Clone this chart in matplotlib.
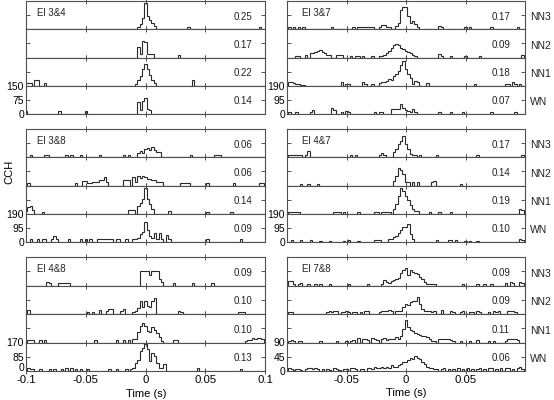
import numpy as np
import matplotlib
matplotlib.use('Agg')
import matplotlib.pyplot as plt
import matplotlib.transforms as mtransforms

plt.rcParams['font.family'] = ['Liberation Sans', 'DejaVu Sans']
plt.rcParams['axes.unicode_minus'] = False

# ---------------- data: (bin centre in ms, count), 2 ms bins ----------------
row_names = ['NN3', 'NN2', 'NN1', 'WN']

# El 3&4 (y max 150)
el34_nn3 = [(-6,14),(-4,28),(-2,58),(0,138),(2,70),(4,50),(6,32),(8,18),(36,14),(96,14)]
el34_nn2 = [(-6,56),(-4,20),(-2,85),(0,80),(2,18),(4,18),(6,18),(28,14)]
el34_nn1 = [(-100,15),(-98,14),(-96,14),(-92,32),(-90,32),(-84,12),(-8,9),(-6,30),(-4,53),(-2,88),
            (0,114),(2,88),(4,55),(6,30),(8,12),(40,28)]
el34_wn = [(-100,15),(-72,15),(-50,15),(-6,62),(-4,20),(-2,70),(0,85),(2,26),(4,21)]
el34_r = ['0.25', '0.17', '0.22', '0.14']

# El 3&8 (y max 190)
el38_nn3 = [(-96,15),(-84,15),(-82,15),(-66,15),(-62,15),(-54,15),(-38,15),(-18,15),(-14,15),
            (-6,30),(-4,44),(-2,26),(0,58),(2,62),(4,48),(6,72),(8,48),(10,33),(12,33),
            (38,15),(58,15),(60,15),(62,15)]
el38_nn2 = [(-98,15),(-58,15),(-52,30),(-50,30),(-48,15),(-46,15),(-44,22),(-42,22),(-40,22),(-38,35),
            (-36,35),(-34,55),(-32,22),(-18,35),(-16,35),(-14,35),(-10,55),(-8,25),(-6,66),(-4,48),
            (-2,66),(0,55),(2,44),(4,44),(6,40),(8,40),(10,22),(12,22),(14,22),(30,15),(32,15),
            (34,15),(36,15),(52,15),(74,15),(96,15),(98,15)]
el38_nn1 = [(-100,20),(-98,45),(-96,55),(-94,22),(-86,15),(-14,22),(-12,22),(-10,22),(-6,55),(-4,75),
            (-2,100),(0,176),(2,100),(4,66),(6,33),(20,20),(52,15),(72,15)]
el38_wn = [(-96,18),(-90,18),(-86,18),(-84,18),(-78,20),(-76,40),(-74,20),(-64,18),(-54,18),(-50,18),
           (-46,18),(-40,18),(-38,18),(-36,18),(-34,18),(-32,18),(-30,18),(-28,18),(-24,18),(-22,18),
           (-16,18),(-10,18),(-8,18),(-6,30),(-4,55),(-2,70),(0,132),(2,80),(4,40),(6,26),(8,62),
           (10,22),(12,62),(14,18),(18,44),(20,22),(52,18),(80,18)]
el38_r = ['0.06', '0.06', '0.14', '0.09']

# El 4&8 (y max 170)
el48_nn3 = [(-82,20),(-80,14),(-72,12),(-70,12),(-68,12),(-66,12),(-64,12),(-4,84),(-2,84),(0,84),
            (2,84),(4,64),(6,84),(8,84),(10,84),(12,40),(14,20),(24,14),(40,14),(56,14)]
el48_nn2 = [(-98,24),(-48,12),(-44,12),(-38,24),(-32,16),(-30,28),(-28,28),(-20,16),(-18,28),(-10,12),
            (-8,20),(-6,36),(-4,76),(-2,40),(0,80),(2,50),(4,44),(6,76),(8,96),(28,20),(30,14),
            (78,12),(80,12),(82,12)]
el48_nn1 = [(-98,12),(-96,12),(-94,12),(-88,12),(-84,12),(-42,12),(-24,12),(-18,12),(-14,12),(-10,20),
            (-8,20),(-6,60),(-4,100),(-2,115),(0,100),(2,70),(4,60),(6,90),(8,76),(10,56),(12,30),
            (14,10),(24,12),(26,12),(84,10),(86,16),(88,16),(90,28),(92,20),(94,28),(96,28),(98,20)]
el48_wn = [(-98,20),(-96,10),(-94,10),(-88,12),(-80,12),(-76,12),(-70,12),(-66,16),(-62,20),(-58,12),
           (-54,12),(-48,12),(-30,12),(-24,12),(-16,12),(-12,10),(-10,20),(-8,50),(-6,64),(-4,120),
           (-2,140),(0,160),(2,130),(4,60),(6,110),(8,90),(10,50),(12,20),(14,20),(16,40),(44,16),(80,12)]
el48_r = ['0.09', '0.10', '0.10', '0.13']

# El 3&7 (y max 190)
el37_nn3 = [(-98,13),(-94,13),(-90,13),(-86,13),(-62,13),(-44,13),(-40,13),(-38,18),(-36,18),(-34,18),
            (-32,18),(-30,18),(-28,18),(-22,18),(-20,27),(-18,27),(-16,18),(-14,18),(-8,22),(-6,45),
            (-4,130),(-2,150),(0,150),(2,90),(4,45),(6,55),(8,33),(10,13),(28,22),(30,13),(50,13),
            (54,13),(72,13),(94,13)]
el37_nn2 = [(-92,13),(-90,13),(-84,18),(-80,27),(-78,33),(-76,40),(-74,45),(-72,50),(-70,40),(-68,27),
            (-66,18),(-64,18),(-58,18),(-56,18),(-54,18),(-46,13),(-42,13),(-40,13),(-36,13),(-28,13),
            (-22,13),(-20,13),(-18,18),(-16,30),(-14,45),(-12,67),(-10,85),(-8,90),(-6,85),(-4,67),
            (-2,55),(0,45),(2,40),(4,33),(6,18),(8,13),(28,22),(30,13),(38,13),(50,13),(62,13),(98,18)]
el37_nn1 = [(-98,25),(-96,25),(-94,18),(-92,13),(-90,11),(-88,8),(-86,8),(-54,22),(-50,13),(-48,13),
            (-36,22),(-34,13),(-28,13),(-22,18),(-20,27),(-18,27),(-16,33),(-14,45),(-12,40),(-10,67),
            (-8,78),(-6,100),(-4,140),(-2,167),(0,110),(2,78),(4,50),(6,12),(8,33),(10,22),(18,18),
            (58,13),(84,13),(86,13),(90,27),(92,13),(96,13)]
el37_wn = [(-98,13),(-92,13),(-80,13),(-78,27),(-62,40),(-60,27),(-54,13),(-50,22),(-48,13),(-26,13),
           (-22,13),(-20,13),(-12,33),(-10,33),(-8,33),(-6,33),(-4,67),(-2,40),(0,27),(2,22),(4,13),
           (6,33),(8,13),(28,13),(38,13),(48,13),(72,13),(92,13)]
el37_r = ['0.17', '0.09', '0.18', '0.07']

# El 4&7 (y max 190)
el47_nn3 = [(-98,18),(-96,13),(-94,13),(-92,13),(-90,13),(-88,13),(-84,18),(-82,40),(-46,13),(-42,13),
            (-22,18),(-20,27),(-18,13),(-10,33),(-8,56),(-6,89),(-4,110),(-2,145),(0,90),(2,56),
            (4,22),(6,18),(8,18),(12,18),(26,18),(60,13),(98,13)]
el47_nn2 = [(-88,13),(-82,13),(-74,13),(-10,33),(-8,67),(-6,116),(-4,107),(-2,78),(0,22),(2,22),
            (6,22),(10,22),(22,22),(24,27),(46,13)]
el47_nn1 = [(-98,13),(-96,9),(-94,9),(-92,9),(-90,9),(-60,13),(-58,13),(-56,13),(-52,9),(-40,13),
            (-26,13),(-24,13),(-20,13),(-18,13),(-16,13),(-14,13),(-10,30),(-8,67),(-6,122),(-4,170),
            (-2,150),(0,122),(2,90),(4,60),(6,33),(8,18),(10,18),(20,13),(28,13),(38,13),(96,33),(98,27)]
el47_wn = [(-96,13),(-88,13),(-80,13),(-72,9),(-64,9),(-52,9),(-48,13),(-40,9),(-26,13),(-24,13),
           (-22,13),(-14,18),(-12,18),(-10,33),(-8,40),(-6,62),(-4,78),(-2,100),(0,100),(2,120),
           (4,55),(6,18),(26,13),(36,13),(38,13),(42,13),(50,9),(54,9),(60,9),(96,22),(98,13)]
el47_r = ['0.17', '0.14', '0.19', '0.10']

# El 7&8 (y max 90)
el78_nn3 = [(-98,13),(-96,13),(-94,6),(-90,6),(-88,8),(-82,5),(-76,5),(-72,5),(-64,5),(-48,5),(-32,6),
            (-20,5),(-18,16),(-16,10),(-14,8),(-12,13),(-10,16),(-8,20),(-6,24),(-4,40),(-2,48),(0,55),
            (2,34),(4,50),(6,42),(8,40),(10,36),(12,28),(14,22),(16,12),(18,6),(20,6),(22,6),(24,5),
            (48,5),(60,5),(66,5),(72,5),(84,8),(88,10),(90,8),(96,10),(98,8)]
el78_nn2 = [(-98,5),(-96,5),(-66,5),(-64,8),(-62,5),(-60,8),(-58,8),(-54,5),(-52,5),(-50,8),(-48,5),
            (-44,6),(-42,6),(-38,5),(-34,8),(-32,8),(-22,5),(-20,8),(-18,10),(-16,10),(-14,12),(-12,8),
            (-8,10),(-6,10),(-4,10),(-2,23),(0,32),(2,30),(4,37),(6,42),(8,40),(10,53),(12,32),(14,16),
            (16,8),(18,8),(20,10),(22,6),(24,10),(30,12),(38,8),(40,6),(46,6),(48,8),(54,6),(56,6),
            (60,8),(62,6),(70,6),(74,8),(76,6),(78,8),(86,10),(88,10),(90,10),(92,6)]
el78_nn1 = [(-98,6),(-96,8),(-94,5),(-90,5),(-88,6),(-72,5),(-58,5),(-50,5),(-46,6),(-44,8),(-40,14),
            (-36,12),(-34,10),(-32,8),(-28,14),(-26,10),(-24,8),(-20,10),(-18,14),(-16,8),(-14,10),
            (-12,12),(-10,10),(-8,18),(-6,12),(-4,21),(-2,42),(0,72),(2,48),(4,40),(6,37),(8,30),
            (10,27),(12,24),(14,21),(16,19),(18,16),(20,11),(22,5),(24,5),(28,10),(30,12),(32,12),
            (34,10),(36,12),(38,8),(40,6),(46,6),(54,6),(60,8),(70,6),(74,6),(84,6),(86,10),(88,10),
            (90,12),(92,10),(94,8)]
el78_wn = [(-98,10),(-96,6),(-94,4),(-92,6),(-90,6),(-88,4),(-84,6),(-82,8),(-80,8),(-78,6),(-76,8),
           (-74,6),(-70,6),(-66,6),(-64,4),(-60,8),(-58,6),(-56,4),(-52,6),(-50,6),(-46,8),(-44,10),
           (-42,6),(-38,6),(-36,6),(-32,8),(-30,10),(-28,6),(-26,12),(-24,8),(-22,10),(-20,14),(-18,8),
           (-16,12),(-14,10),(-12,18),(-10,12),(-8,14),(-6,18),(-4,22),(-2,30),(0,30),(2,35),(4,40),
           (6,37),(8,48),(10,42),(12,37),(14,28),(16,21),(18,13),(20,10),(22,8),(24,6),(26,6),(30,6),
           (32,8),(36,6),(40,6),(44,8),(48,6),(52,8),(56,6),(60,6),(62,8),(66,6),(70,8),(72,10),(76,6),
           (80,8),(84,10),(86,8),(90,6),(94,8),(96,12),(98,6)]
el78_r = ['0.09', '0.09', '0.11', '0.06']

panels = [
    ('El 3&4', 0, 0, 150, [el34_nn3, el34_nn2, el34_nn1, el34_wn], el34_r),
    ('El 3&8', 0, 1, 190, [el38_nn3, el38_nn2, el38_nn1, el38_wn], el38_r),
    ('El 4&8', 0, 2, 170, [el48_nn3, el48_nn2, el48_nn1, el48_wn], el48_r),
    ('El 3&7', 1, 0, 190, [el37_nn3, el37_nn2, el37_nn1, el37_wn], el37_r),
    ('El 4&7', 1, 1, 190, [el47_nn3, el47_nn2, el47_nn1, el47_wn], el47_r),
    ('El 7&8', 1, 2, 90, [el78_nn3, el78_nn2, el78_nn1, el78_wn], el78_r),
]

# ---------------- layout ----------------
W, H = 554, 400
fig = plt.figure(figsize=(W / 100, H / 100), dpi=100)
col_x = [(26, 265), (287, 525)]
panel_y = [(1, 114), (129, 242), (257, 371)]
edges_ms = np.arange(-101, 102, 2)
LINE = '#2a2a2a'
SPINE = '#505050'

for title, col, prow, ymax, rows, rvals in panels:
    x0, x1 = col_x[col]
    y0, y1 = panel_y[prow]
    rh = (y1 - y0) / 4
    for i, data in enumerate(rows):
        top = y0 + i * rh
        ax = fig.add_axes([x0 / W, 1 - (top + rh) / H, (x1 - x0) / W, rh / H])
        counts = np.zeros(len(edges_ms) - 1)
        for c, v in data:
            counts[(c + 100) // 2] = v
        ax.stairs(counts, edges_ms / 1000.0, color=LINE, lw=0.8, baseline=0)
        ax.set_xlim(-0.1, 0.1)
        ax.set_ylim(0, ymax)
        for s in ax.spines.values():
            s.set_color(SPINE)
            s.set_linewidth(0.8)
        bottom_row = (i == 3)
        last_panel = (prow == 2)
        if col == 0 and bottom_row and last_panel:
            ax.set_xticks([-0.1, -0.05, 0, 0.05, 0.1])
            ax.set_xticklabels(['-0.1', '-0.05', '0', '0.05', '0.1'])
        else:
            ax.set_xticks([-0.05, 0, 0.05])
            if bottom_row and last_panel:
                ax.set_xticklabels(['-0.05', '0', '0.05'])
        ax.tick_params(axis='x', direction='inout', length=4, width=0.7, color=SPINE,
                       top=True, bottom=True, labelbottom=(bottom_row and last_panel),
                       labelsize=8.2, pad=0.8)
        if bottom_row:
            ax.set_yticks([0, ymax / 2, ymax])
            ax.set_yticklabels(['0', f'{ymax / 2:g}', str(ymax)])
        else:
            ax.set_yticks([ymax / 2])
            ax.set_yticklabels([])
        ax.tick_params(axis='y', direction='in', length=3, width=0.7, color=SPINE,
                       left=True, right=True, labelleft=bottom_row, labelsize=7.5, pad=1.5)
        if bottom_row and last_panel and col == 0:
            zero_lbl = ax.get_yticklabels()[0]
            zero_lbl.set_transform(zero_lbl.get_transform() +
                                   mtransforms.ScaledTranslation(0, 4 / 100, fig.dpi_scale_trans))
        rx = 0.947 if col == 0 else 0.937
        ax.text(rx, 0.45, rvals[i], transform=ax.transAxes, ha='right', va='center',
                fontsize=7, color='#222222')
        if col == 1:
            ax.text(1.022, 0.42, row_names[i], transform=ax.transAxes, ha='left', va='center',
                    fontsize=7.5, color='#222222')
        if i == 0:
            tx = 0.045 if col == 0 else 0.065
            ax.text(tx, 0.57, title, transform=ax.transAxes, ha='left', va='center',
                    fontsize=7, color='#222222')

fig.text(146 / W, 1 - 394 / H, 'Time (s)', ha='center', va='center', fontsize=8)
fig.text(406 / W, 1 - 393 / H, 'Time (s)', ha='center', va='center', fontsize=8)
fig.text(9 / W, 1 - 172 / H, 'CCH', rotation=90, ha='center', va='center', fontsize=8)

fig.savefig('out.png', dpi=100, facecolor='white')
